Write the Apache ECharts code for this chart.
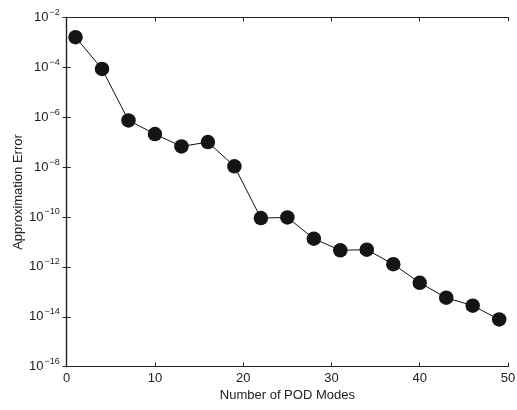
<!DOCTYPE html>
<html>
<head>
<meta charset="utf-8">
<script src="https://cdn.jsdelivr.net/npm/echarts@6/dist/echarts.min.js"></script>
<style>html,body{margin:0;padding:0;background:#fff}#c{width:517px;height:410px}</style>
</head>
<body>
<div id="c"></div>
<script>
var modes = [1, 4, 7, 10, 13, 16, 19, 22, 25, 28, 31, 34, 37, 40, 43, 46, 49];
var errors = [1.6e-3, 8.5e-5, 7.4e-7, 2.1e-7, 6.7e-8, 1.0e-7, 1.07e-8, 9.0e-11, 9.6e-11, 1.35e-11, 4.6e-12, 4.9e-12, 1.28e-12, 2.3e-13, 5.8e-14, 2.8e-14, 7.8e-15];
var xTicks = [0, 10, 20, 30, 40, 50];
var yExponents = [-16, -14, -12, -10, -8, -6, -4, -2];

var font = 'Liberation Sans, Arial, Helvetica, sans-serif';
var chart = echarts.init(document.getElementById('c'));
var points = modes.map(function (m, i) { return [m, errors[i]]; });

function yLabel(v) {
  var e = Math.round(Math.log10(v));
  return '{b|10}{s|' + (e < 0 ? '\u2212' + (-e) : e) + '}';
}

var axisLineStyle = { color: '#222', width: 1.2 };
chart.setOption({
  animation: false,
  backgroundColor: '#fff',
  grid: { left: 66.7, right: 9, top: 17.3, bottom: 43.3, containLabel: false, outerBoundsMode: 'none' },
  xAxis: [{
    type: 'value', min: xTicks[0], max: xTicks[xTicks.length - 1], interval: 10,
    name: 'Number of POD Modes', nameLocation: 'middle', nameGap: 22, nameMoveOverlap: false,
    nameTextStyle: { fontFamily: font, fontSize: 13, color: '#222' },
    axisLine: { lineStyle: axisLineStyle },
    axisTick: { inside: true, length: 4, lineStyle: { color: '#222' } },
    axisLabel: { fontFamily: font, fontSize: 13, color: '#222', margin: 5 },
    splitLine: { show: false }
  }, {
    type: 'value', min: xTicks[0], max: xTicks[xTicks.length - 1], interval: 10, position: 'top',
    axisLine: { lineStyle: axisLineStyle },
    axisTick: { inside: true, length: 4, lineStyle: { color: '#222' } },
    axisLabel: { show: false }, splitLine: { show: false }
  }],
  yAxis: [{
    type: 'log', logBase: 10, min: Math.pow(10, yExponents[0]), max: Math.pow(10, yExponents[yExponents.length - 1]), interval: 2,
    name: 'Approximation Error', nameLocation: 'middle', nameGap: 42, nameMoveOverlap: false,
    nameTextStyle: { fontFamily: font, fontSize: 13, color: '#222' },
    axisLine: { lineStyle: axisLineStyle },
    axisTick: { inside: true, length: 4, lineStyle: { color: '#222' } },
    minorTick: { show: false },
    axisLabel: {
      margin: 7, formatter: yLabel,
      rich: {
        b: { fontFamily: font, fontSize: 13, color: '#222' },
        s: { fontFamily: font, fontSize: 9, color: '#222', padding: [0, 0, 10, 1] }
      }
    },
    splitLine: { show: false }
  }, {
    type: 'log', logBase: 10, min: Math.pow(10, yExponents[0]), max: Math.pow(10, yExponents[yExponents.length - 1]), interval: 2, position: 'right',
    axisLine: { lineStyle: axisLineStyle },
    axisTick: { inside: true, length: 4, lineStyle: { color: '#222' } },
    axisLabel: { show: false }, splitLine: { show: false }
  }],
  series: [{
    type: 'line', data: points, xAxisIndex: 0, yAxisIndex: 0,
    symbol: 'circle', symbolSize: 14.5,
    lineStyle: { color: '#111', width: 1 },
    itemStyle: { color: '#141414', borderWidth: 0 }
  }]
});
</script>
</body>
</html>
